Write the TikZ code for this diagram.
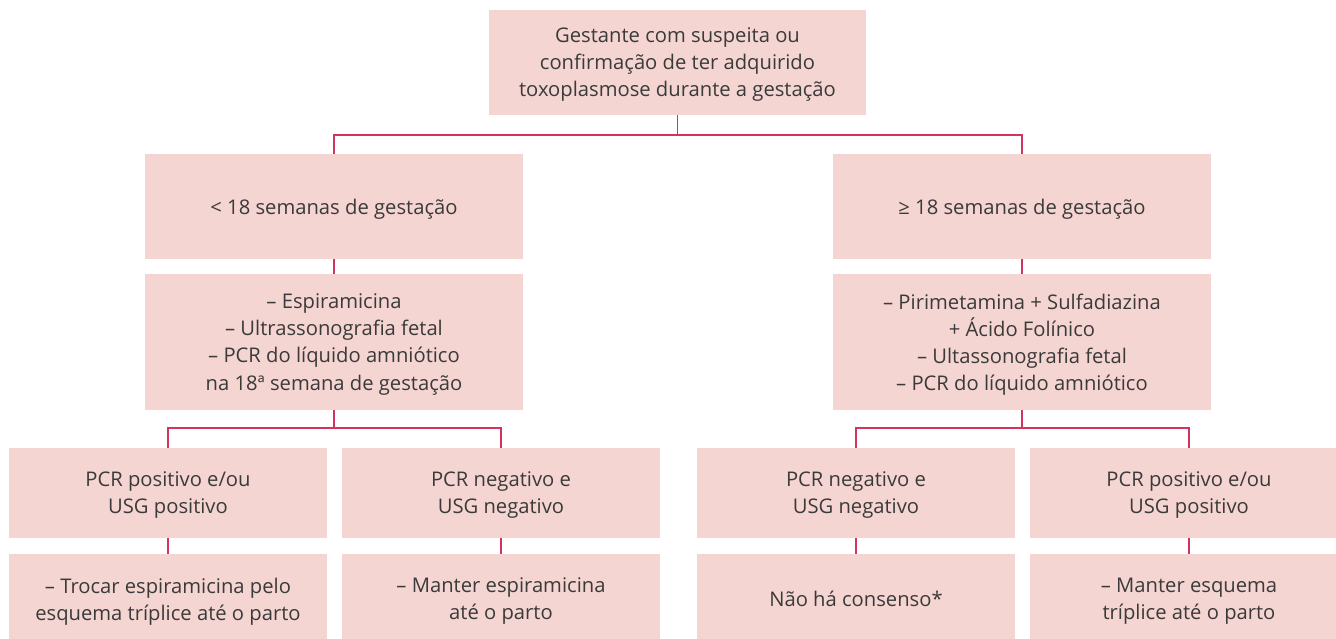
\documentclass[tikz,border=0pt]{standalone}
\usepackage{fontspec}
\setmainfont{Open Sans}
\usepackage{xcolor}
\definecolor{caixarosa}{HTML}{F5D5D1}
\definecolor{linharosa}{HTML}{D2345E}
\definecolor{textocinza}{HTML}{3A3A3A}

\begin{document}
\begin{tikzpicture}[x=0.02cm,y=-0.02cm,
  caixa/.style={rectangle,fill=caixarosa,text=textocinza,align=center,inner sep=0pt,
    font=\fontsize{11.5}{15.4}\selectfont,text depth=-1.5pt},
  larga/.style={caixa,minimum width=7.56cm},
  estreita/.style={caixa,minimum width=6.36cm,minimum height=1.8cm},
  liga/.style={draw=linharosa,line width=1.1pt}]
\useasboundingbox (0,0) rectangle (1336,639);
\clip (0,0) rectangle (1336,639);
% topo
\node[caixa,minimum width=7.54cm,minimum height=2.1cm] (topo) at (677.5,62.5) {Gestante com suspeita ou\\confirmação de ter adquirido\\toxoplasmose durante a gestação};
% idade gestacional
\node[larga,minimum height=2.1cm] (menor) at (334,206.5) {< 18 semanas de gestação};
\node[larga,minimum height=2.1cm] (maior) at (1022,206.5) {≥ 18 semanas de gestação};
% conduta
\node[larga,minimum height=2.72cm] (tratmenor) at (334,342) {– Espiramicina\\– Ultrassonografia fetal\\– PCR do líquido amniótico\\na 18ª semana de gestação};
\node[larga,minimum height=2.72cm] (tratmaior) at (1022,342) {– Pirimetamina + Sulfadiazina\\+ Ácido Folínico\\– Ultassonografia fetal\\– PCR do líquido amniótico};
% resultados
\node[estreita] (res1) at (168,493) {PCR positivo e/ou\\USG positivo};
\node[estreita] (res2) at (501,493) {PCR negativo e\\USG negativo};
\node[estreita] (res3) at (856,493) {PCR negativo e\\USG negativo};
\node[estreita] (res4) at (1189,493) {PCR positivo e/ou\\USG positivo};
% desfechos
\node[estreita] (fim1) at (168,599) {– Trocar espiramicina pelo\\esquema tríplice até o parto};
\node[estreita] (fim2) at (501,599) {– Manter espiramicina\\até o parto};
\node[estreita] (fim3) at (856,599) {Não há consenso*};
\node[estreita] (fim4) at (1189,599) {– Manter esquema\\tríplice até o parto};
% ligacoes
\draw[liga] (topo.south) -- ++(0,20) -| (menor.north);
\draw[liga] (topo.south) -- ++(0,20) -| (maior.north);
\draw[liga] (menor) -- (tratmenor);
\draw[liga] (maior) -- (tratmaior);
\draw[liga] (tratmenor.south) -- ++(0,18) -| (res1.north);
\draw[liga] (tratmenor.south) -- ++(0,18) -| (res2.north);
\draw[liga] (tratmaior.south) -- ++(0,18) -| (res3.north);
\draw[liga] (tratmaior.south) -- ++(0,18) -| (res4.north);
\draw[liga] (res1) -- (fim1);
\draw[liga] (res2) -- (fim2);
\draw[liga] (res3) -- (fim3);
\draw[liga] (res4) -- (fim4);
\end{tikzpicture}
\end{document}
